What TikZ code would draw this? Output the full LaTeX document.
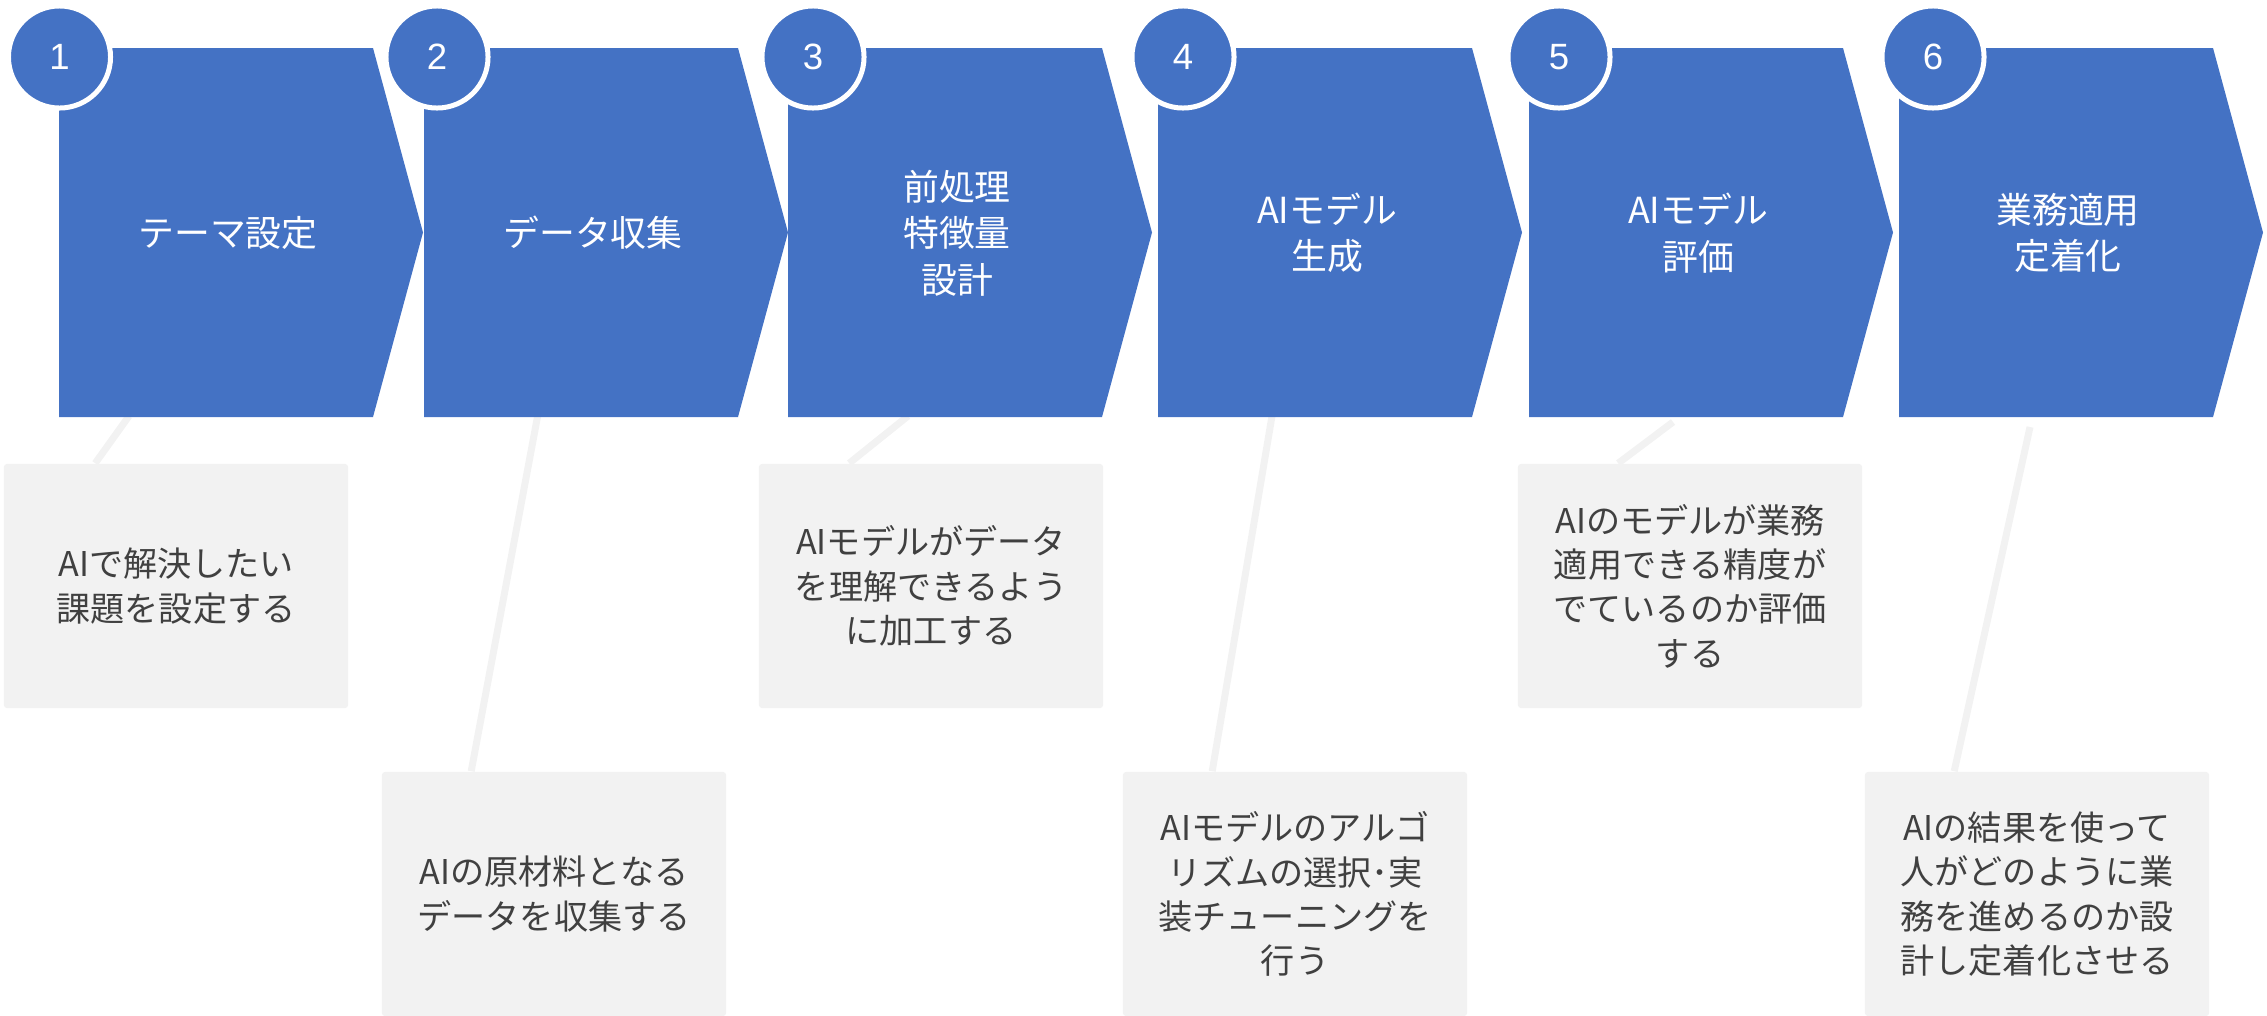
\documentclass[tikz,border=0pt]{standalone}
\usepackage{fontspec}
\setmainfont{Noto Sans CJK JP}
\newfontfamily\numfont{Liberation Sans}
\usetikzlibrary{calc}
\definecolor{blu}{HTML}{4472C4}
\definecolor{boxg}{HTML}{F2F2F2}
\definecolor{txtg}{HTML}{404040}
\begin{document}
\begin{tikzpicture}[x=0.01cm,y=-0.01cm,
  chev/.style={fill=blu},
  chevtext/.style={text=white, font=\fontsize{10.2pt}{13.2pt}\selectfont, align=center, inner sep=0},
  numc/.style={circle, fill=blu, draw=white, line width=0.05cm, minimum size=1.02cm, inner sep=0, text=white, font=\numfont\fontsize{10.4pt}{12pt}\selectfont},
  descbox/.style={fill=boxg, rounded corners=0.03cm, minimum width=3.44cm, minimum height=2.44cm, inner sep=0, text=txtg, align=center, font=\fontsize{9.7pt}{12.6pt}\selectfont},
  link/.style={draw=boxg, line width=0.07cm}]
\useasboundingbox (0,0) rectangle (2267,1015);
% description boxes
\node[descbox] (b1) at (176,586) {AIで解決したい\\課題を設定する};
\node[descbox] (b2) at (554,894) {AIの原材料となる\\データを収集する};
\node[descbox] (b3) at (931,586) {AIモデルがデータ\\を理解できるよう\\に加工する};
\node[descbox] (b4) at (1295,894) {AIモデルのアルゴ\\リズムの選択･実\\装チューニングを\\行う};
\node[descbox] (b5) at (1690,586) {AIのモデルが業務\\適用できる精度が\\でているのか評価\\する};
\node[descbox] (b6) at (2037,894) {AIの結果を使って\\人がどのように業\\務を進めるのか設\\計し定着化させる};
% connector tops
\coordinate (t1) at (129,416);
\coordinate (t2) at (538,414);
\coordinate (t3) at (908,416);
\coordinate (t4) at (1272,416);
\coordinate (t5) at (1673,422);
\coordinate (t6) at (2030,427);
\draw[link] (t1) -- ($(b1.north west)+(92,0)$);
\draw[link] (t2) -- ($(b2.north west)+(90,0)$);
\draw[link] (t3) -- ($(b3.north west)+(91,0)$);
\draw[link] (t4) -- ($(b4.north west)+(90,0)$);
\draw[link] (t5) -- ($(b5.north west)+(101,0)$);
\draw[link] (t6) -- ($(b6.north west)+(90,0)$);
% chevrons
\foreach \l in {59,424,788,1158,1529,1899}{
  \fill[chev] (\l,48) -- (\l+314,48) -- (\l+364,232.5) -- (\l+314,417) -- (\l,417) -- cycle;
}
\node[chevtext] (c1) at (228,233) {テーマ設定};
\node[chevtext] (c2) at (593,233) {データ収集};
\node[chevtext] (c3) at (957,233) {前処理\\特徴量\\設計};
\node[chevtext] (c4) at (1327,233) {AIモデル\\生成};
\node[chevtext] (c5) at (1698,233) {AIモデル\\評価};
\node[chevtext] (c6) at (2068,233) {業務適用\\定着化};
% number circles
\node[numc] (n1) at (59.5,57) {1};
\node[numc] (n2) at (437,57) {2};
\node[numc] (n3) at (813,57) {3};
\node[numc] (n4) at (1183,57) {4};
\node[numc] (n5) at (1559,57) {5};
\node[numc] (n6) at (1933,57) {6};
\end{tikzpicture}
\end{document}
